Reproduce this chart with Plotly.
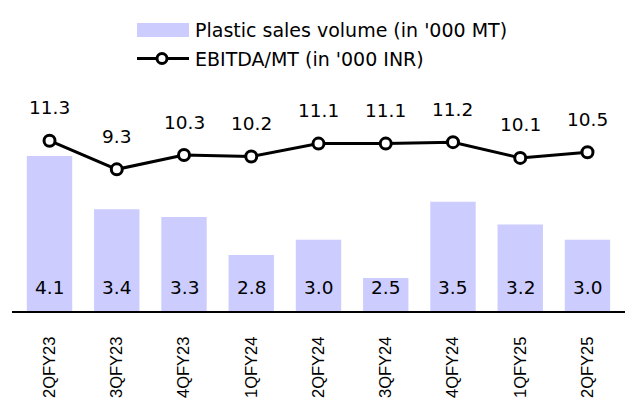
import plotly.graph_objects as go

quarters = ["2QFY23", "3QFY23", "4QFY23", "1QFY24", "2QFY24", "3QFY24", "4QFY24", "1QFY25", "2QFY25"]
sales_volume = [4.1, 3.4, 3.3, 2.8, 3.0, 2.5, 3.5, 3.2, 3.0]
ebitda_per_mt = [11.3, 9.3, 10.3, 10.2, 11.1, 11.1, 11.2, 10.1, 10.5]

bar_name = "Plastic sales volume (in '000 MT)"
line_name = "EBITDA/MT (in '000 INR)"

LABEL_FONT = dict(family="DejaVu Sans", size=18.5, color="#000000")
LEGEND_FONT = dict(family="DejaVu Sans", size=19, color="#000000")
bar_range = [2.067, 4.834]
line_range = [-0.61, 14.15]

W, H = 636, 403
ML, MR, MT, MB = 12, 11, 100, 92
PW, PH = W - ML - MR, H - MT - MB

fig = go.Figure()
fig.add_trace(go.Bar(
    x=quarters, y=sales_volume, name=bar_name,
    marker=dict(color="#CCCCFF", line=dict(width=0)),
    showlegend=False, yaxis="y",
))
fig.add_trace(go.Scatter(
    x=quarters, y=ebitda_per_mt, name=line_name, mode="lines+markers",
    line=dict(color="#000000", width=3),
    marker=dict(symbol="circle", size=11, color="#FFFFFF", line=dict(color="#000000", width=3)),
    showlegend=False, yaxis="y2",
))

annotations = []
for q, v in zip(quarters, ebitda_per_mt):
    annotations.append(dict(x=q, y=v, xref="x", yref="y2", text=f"{v:.1f}", showarrow=False,
                            yanchor="middle", yshift=33, font=LABEL_FONT))
for q, v in zip(quarters, sales_volume):
    annotations.append(dict(x=q, y=bar_range[0], xref="x", yref="y", text=f"{v:.1f}", showarrow=False,
                            yanchor="middle", yshift=24, font=LABEL_FONT))

# manual legend (pixel -> paper coordinates of the plot area)
def px(xp):
    return (xp - ML) / PW
def py(yp):
    return (H - MB - yp) / PH

shapes = [
    dict(type="rect", xref="paper", yref="paper", x0=px(137), x1=px(189), y0=py(37), y1=py(23),
         fillcolor="#CCCCFF", line=dict(width=0), layer="above"),
    dict(type="line", xref="paper", yref="paper", x0=px(137), x1=px(189), y0=py(58.5), y1=py(58.5),
         line=dict(color="#000000", width=3)),
    dict(type="circle", xref="paper", yref="paper", x0=px(157), x1=px(167), y0=py(63.5), y1=py(53.5),
         fillcolor="#FFFFFF", line=dict(color="#000000", width=3)),
]
annotations.append(dict(x=px(193), y=py(30), xref="paper", yref="paper", text=bar_name, showarrow=False,
                        xanchor="left", yanchor="middle", font=LEGEND_FONT))
annotations.append(dict(x=px(193), y=py(58.5), xref="paper", yref="paper", text=line_name, showarrow=False,
                        xanchor="left", yanchor="middle", font=LEGEND_FONT))

fig.update_layout(
    width=W, height=H,
    margin=dict(l=ML, r=MR, t=MT, b=MB, autoexpand=False),
    paper_bgcolor="#FFFFFF", plot_bgcolor="#FFFFFF",
    bargap=0.325,
    showlegend=False,
    xaxis=dict(showline=True, linecolor="#000000", linewidth=2, showgrid=False, zeroline=False,
               tickangle=-90, tickfont=dict(family="Liberation Sans", size=16.5, color="#000000"),
               ticks="", ticklabelstandoff=17, automargin=False),
    yaxis=dict(range=bar_range, visible=False, showgrid=False, zeroline=False, automargin=False),
    yaxis2=dict(range=line_range, overlaying="y", visible=False, showgrid=False, zeroline=False,
                automargin=False),
    annotations=annotations,
    shapes=shapes,
)

fig.write_html("out.html")
